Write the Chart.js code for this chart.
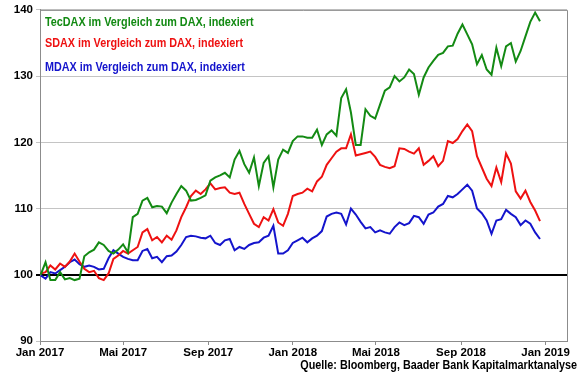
<!DOCTYPE html>
<html>
<head>
<meta charset="utf-8">
<script src="https://cdn.jsdelivr.net/npm/chart.js@4.4.0/dist/chart.umd.min.js"></script>
<style>
  html, body { margin: 0; padding: 0; background: #fff; }
  #wrap { width: 580px; height: 375px; }
</style>
</head>
<body>
<div id="wrap"><canvas id="chart" width="580" height="375"></canvas></div>
<script>
// Wochenwerte ab 02.01.2017, indexiert (Start = 100)
const tecdax = [
  100.0, 101.9, 99.2, 99.2, 100.4, 99.3, 99.5, 99.2, 99.4, 102.8,
  103.4, 103.8, 104.9, 104.5, 103.6, 103.2, 103.8, 104.6, 103.4, 108.7,
  109.2, 111.2, 111.6, 110.2, 110.4, 110.3, 109.3, 110.9, 112.2, 113.4,
  112.7, 111.2, 111.3, 111.6, 112.0, 114.2, 114.7, 115.0, 115.4, 114.7,
  117.4, 118.7, 116.7, 115.4, 117.7, 113.4, 116.9, 117.9, 113.2, 117.4,
  118.9, 118.4, 120.2, 120.9, 120.9, 120.7, 120.7, 121.9, 119.6, 121.2,
  121.8, 121.0, 126.7, 128.0, 124.5, 119.6, 119.6, 125.0, 124.0, 123.6,
  125.7, 127.8, 128.3, 130.0, 129.2, 129.8, 131.0, 130.3, 127.2, 129.8,
  131.3, 132.3, 133.2, 133.5, 134.5, 134.6, 136.4, 137.8, 136.3, 134.8,
  131.8, 133.2, 131.0, 130.2, 134.3, 131.5, 134.5, 135.0, 132.2, 133.8,
  136.0, 138.2, 139.6, 138.3
];
const sdax = [
  100.2, 100.4, 101.4, 100.8, 101.7, 101.2, 102.0, 103.2, 102.0, 100.9,
  100.4, 100.6, 99.5, 99.2, 100.2, 102.4, 102.9, 103.6, 103.2, 103.7,
  104.2, 106.4, 106.9, 105.2, 105.7, 104.9, 105.9, 105.3, 106.7, 108.7,
  110.2, 111.9, 112.7, 112.2, 112.9, 113.8, 112.9, 113.1, 113.2, 112.4,
  112.2, 112.4, 110.7, 109.2, 107.7, 107.2, 108.7, 108.2, 109.9, 107.9,
  107.4, 109.2, 111.9, 112.2, 112.4, 113.0, 112.6, 114.1, 114.8, 116.6,
  117.6, 118.6, 119.1, 119.1, 121.2, 118.0, 118.2, 118.4, 118.6, 117.8,
  116.6, 116.3, 116.1, 116.4, 119.1, 119.0, 118.6, 118.3, 119.1, 116.6,
  117.2, 117.9, 116.4, 117.2, 120.2, 119.9, 120.5, 121.7, 122.7, 121.7,
  117.9, 116.2, 114.5, 113.4, 116.2, 114.0, 118.3, 116.8, 112.6, 111.5,
  112.7, 111.0, 109.7, 108.1
];
const mdax = [
  99.9, 99.4, 100.4, 100.2, 100.7, 101.2, 101.9, 102.3, 101.6, 101.2,
  101.4, 101.2, 100.8, 100.9, 102.5, 103.7, 103.2, 102.7, 102.4, 102.2,
  102.2, 103.6, 103.9, 102.5, 102.7, 101.9, 102.8, 102.9, 103.5, 104.5,
  105.7, 105.9, 105.8, 105.6, 105.5, 105.9, 104.8, 104.5, 105.2, 105.4,
  103.7, 104.2, 103.9, 104.5, 104.8, 104.9, 105.6, 105.9, 107.4, 103.2,
  103.2, 103.7, 104.8, 105.2, 105.6, 104.9, 105.5, 105.9, 106.6, 108.8,
  109.2, 109.4, 109.2, 107.6, 110.0, 109.1, 108.0, 107.0, 107.2, 106.4,
  106.7, 106.4, 106.2, 107.2, 107.9, 107.5, 107.8, 108.9, 108.7, 107.7,
  109.1, 109.4, 110.3, 110.7, 111.9, 111.7, 112.2, 112.9, 113.6, 112.7,
  110.0, 109.3, 108.2, 106.2, 108.2, 108.4, 109.8, 109.2, 108.7, 107.5,
  108.2, 107.7, 106.4, 105.4
];
const seriesNames = [
  'TecDAX im Vergleich zum DAX, indexiert',
  'SDAX im Vergleich zum DAX, indexiert',
  'MDAX im Vergleich zum DAX, indexiert'
];
// Tage seit 01.01.2017
const tickDays = [0, 120, 243, 365, 485, 608, 730];
const tickLabels = ['Jan 2017', 'Mai 2017', 'Sep 2017', 'Jan 2018', 'Mai 2018', 'Sep 2018', 'Jan 2019'];
const quelle = 'Quelle: Bloomberg, Baader Bank Kapitalmarktanalyse';

const farben = ['#138a13', '#ee1111', '#1414cc'];
const tage = tecdax.map((_, i) => 1 + 7 * i);

function punkte(werte) {
  return werte.map((v, i) => ({ x: tage[i], y: v }));
}

const textPlugin = {
  id: 'texte',
  afterDraw(chart) {
    const ctx = chart.ctx;
    const a = chart.chartArea;
    ctx.save();
    ctx.strokeStyle = '#8c8c8c';
    ctx.lineWidth = 1;
    ctx.beginPath();
    ctx.moveTo(a.left, a.top + 0.5);
    ctx.lineTo(a.right + 0.5, a.top + 0.5);
    ctx.lineTo(a.right + 0.5, a.bottom);
    ctx.stroke();

    ctx.font = 'bold 12px "Liberation Sans", Arial, sans-serif';
    ctx.textBaseline = 'middle';
    const ys = [23, 44, 68];
    seriesNames.forEach((t, i) => {
      ctx.save();
      ctx.translate(45, ys[i]);
      ctx.scale(0.9, 1);
      ctx.fillStyle = farben[i];
      ctx.fillText(t, 0, 0);
      ctx.restore();
    });

    ctx.save();
    ctx.translate(577, 366);
    ctx.scale(0.9, 1);
    ctx.fillStyle = '#000';
    ctx.textAlign = 'right';
    ctx.fillText(quelle, 0, 0);
    ctx.restore();
    ctx.restore();
  }
};

const ctx = document.getElementById('chart').getContext('2d');
new Chart(ctx, {
  type: 'line',
  data: {
    datasets: [
      { label: seriesNames[0], data: punkte(tecdax), borderColor: farben[0] },
      { label: seriesNames[1], data: punkte(sdax), borderColor: farben[1] },
      { label: seriesNames[2], data: punkte(mdax), borderColor: farben[2] }
    ]
  },
  options: {
    responsive: false,
    animation: false,
    devicePixelRatio: 1,
    layout: { padding: { top: 8, right: 13, left: 0, bottom: 0 } },
    elements: {
      point: { radius: 0 },
      line: { borderWidth: 2, tension: 0 }
    },
    plugins: {
      legend: { display: false },
      tooltip: { enabled: false }
    },
    scales: {
      x: {
        type: 'linear',
        min: 0,
        max: 761,
        afterBuildTicks: s => { s.ticks = tickDays.map(v => ({ value: v })); },
        afterFit: s => { s.height = 34; },
        ticks: {
          autoSkip: false,
          maxRotation: 0,
          padding: 1,
          color: '#000',
          font: { family: '"Liberation Sans", Arial, sans-serif', size: 11.5, weight: 'bold' },
          callback: v => tickLabels[tickDays.indexOf(v)]
        },
        grid: { drawOnChartArea: false, drawTicks: true, tickLength: 4, color: '#8c8c8c' },
        border: { color: '#8c8c8c' }
      },
      y: {
        min: 90,
        max: 140,
        afterFit: s => { s.width = 40; },
        ticks: {
          stepSize: 10,
          padding: 3,
          color: '#000',
          font: { family: '"Liberation Sans", Arial, sans-serif', size: 11.5, weight: 'bold' }
        },
        grid: {
          drawTicks: true,
          tickLength: 4,
          color: c => c.tick.value === 100 ? '#000' : '#c4c4c4',
          lineWidth: c => c.tick.value === 100 ? 2 : 1
        },
        border: { color: '#8c8c8c' }
      }
    }
  },
  plugins: [textPlugin]
});
</script>
</body>
</html>
